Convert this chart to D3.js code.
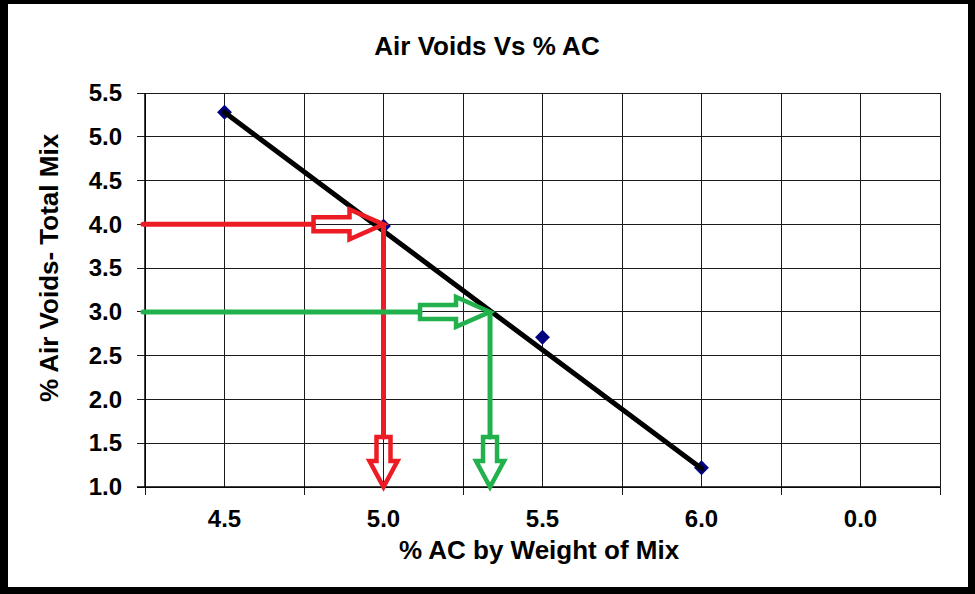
<!DOCTYPE html>
<html>
<head>
<meta charset="utf-8">
<script src="https://cdn.jsdelivr.net/npm/d3@7"></script>
<style>
  html, body { margin: 0; padding: 0; background: #fff; }
  svg { display: block; }
</style>
</head>
<body>
<div id="chart"></div>
<script>
// --- data ---
const categories = ["4.5", "5.0", "5.5", "6.0", "0.0"];
const acValues = [4.5, 5.0, 5.5, 6.0];
const airVoids = [5.28, 3.98, 2.71, 1.22];
const yTicks = [1.0, 1.5, 2.0, 2.5, 3.0, 3.5, 4.0, 4.5, 5.0, 5.5];
// trend line end points (% AC, % air voids)
const trendAC = [4.5, 6.0];
const trendVoids = [5.28, 1.21];
// read-off arrows: target air voids -> % AC
const arrowVoids = [4.0, 3.0];
const arrowAC = [5.0, 5.335];
const arrowColors = ["#ed1c24", "#22b14c"];

const W = 975, H = 594;
const margin = { left: 145, right: 35, top: 93, bottom: 107 };
const font = "'Liberation Sans', Arial, sans-serif";

const svg = d3.select("#chart").append("svg").attr("width", W).attr("height", H);

// frame
svg.append("rect").attr("width", W).attr("height", H).attr("fill", "#000");
svg.append("rect").attr("x", 8).attr("y", 4).attr("width", 960).attr("height", 583).attr("fill", "#fff");

const x = d3.scaleBand().domain(categories).range([margin.left, W - margin.right]).padding(0);
const bw = x.bandwidth();
// continuous position along the categories, for the read-off values
const xAC = d3.scaleLinear()
    .domain([acValues[0], acValues[acValues.length - 1]])
    .range([x(categories[0]) + bw / 2, x(categories[acValues.length - 1]) + bw / 2]);
const y = d3.scaleLinear().domain([1, 5.5]).range([H - margin.bottom, margin.top]);

const x0 = margin.left, x1 = W - margin.right, yb = y(1), yt = y(5.5);

// grid
const grid = svg.append("g").attr("stroke", "#1a1a1a").attr("stroke-width", 1).attr("shape-rendering", "crispEdges");
grid.selectAll("line.h").data(yTicks).join("line").attr("class", "h")
    .attr("x1", x0 - 8).attr("x2", x1).attr("y1", d => y(d)).attr("y2", d => y(d));
const bounds = categories.map(c => x(c)).concat([x(categories[categories.length - 1]) + bw]);
grid.selectAll("line.vb").data(bounds).join("line").attr("class", "vb")
    .attr("x1", d => d).attr("x2", d => d).attr("y1", yt).attr("y2", yb + 8);
grid.selectAll("line.vc").data(categories).join("line").attr("class", "vc")
    .attr("x1", d => x(d) + bw / 2).attr("x2", d => x(d) + bw / 2).attr("y1", yt).attr("y2", yb);

// y axis labels
const yAxis = svg.append("g").attr("transform", `translate(${x0},0)`)
    .call(d3.axisLeft(y).tickValues(yTicks).tickFormat(d3.format(".1f")).tickSize(0).tickPadding(23));
yAxis.select(".domain").remove();
yAxis.selectAll("text").attr("font-family", font).attr("font-size", 24).attr("font-weight", "bold").attr("fill", "#000");

// x axis labels
const xAxis = svg.append("g").attr("transform", `translate(0,${yb})`)
    .call(d3.axisBottom(x).tickSize(0).tickPadding(23));
xAxis.select(".domain").remove();
xAxis.selectAll("text").attr("font-family", font).attr("font-size", 24).attr("font-weight", "bold").attr("fill", "#000");

// axis lines
svg.append("line").attr("x1", x0).attr("x2", x0).attr("y1", yt).attr("y2", yb)
    .attr("stroke", "#000").attr("stroke-width", 1.5);
svg.append("line").attr("x1", x0 - 8).attr("x2", x1).attr("y1", yb).attr("y2", yb)
    .attr("stroke", "#000").attr("stroke-width", 1.5);

// markers
svg.append("g").selectAll("path").data(acValues).join("path")
    .attr("d", d3.symbol().type(d3.symbolSquare).size(110))
    .attr("transform", (d, i) => `translate(${xAC(d)},${y(airVoids[i])}) rotate(45)`)
    .attr("fill", "#000080");

// trend line
svg.append("path")
    .datum(trendAC.map((d, i) => [d, trendVoids[i]]))
    .attr("d", d3.line().x(d => xAC(d[0])).y(d => y(d[1])))
    .attr("fill", "none").attr("stroke", "#000").attr("stroke-width", 5).attr("stroke-linecap", "round");

// hollow block arrows, tip at (0,0)
const rightArrow = "M-70,-7 L-34,-7 L-34,-15 L0,0 L-34,15 L-34,7 L-70,7 Z";
const downArrow = "M-7,-50 L-7,-26 L-14,-26 L0,0 L14,-26 L7,-26 L7,-50 Z";

arrowVoids.forEach((v, i) => {
    const g = svg.append("g").attr("stroke", arrowColors[i]).attr("fill", "none")
        .attr("stroke-linecap", "round");
    const ax = xAC(arrowAC[i]), ay = y(v);
    g.append("line").attr("x1", x0 - 2).attr("x2", ax - 70).attr("y1", ay).attr("y2", ay).attr("stroke-width", 5);
    g.append("path").attr("d", rightArrow).attr("transform", `translate(${ax},${ay})`)
        .attr("stroke-width", 4.5).attr("stroke-linejoin", "miter");
    g.append("line").attr("x1", ax).attr("x2", ax).attr("y1", ay + 2).attr("y2", yb - 50).attr("stroke-width", 5);
    g.append("path").attr("d", downArrow).attr("transform", `translate(${ax},${yb})`)
        .attr("stroke-width", 4.5).attr("stroke-linejoin", "miter");
});

// titles
svg.append("text").attr("x", 487).attr("y", 55).attr("text-anchor", "middle")
    .attr("font-family", font).attr("font-size", 26).attr("font-weight", "bold")
    .text("Air Voids Vs % AC");
svg.append("text").attr("x", 539).attr("y", 559).attr("text-anchor", "middle")
    .attr("font-family", font).attr("font-size", 26).attr("font-weight", "bold")
    .text("% AC by Weight of Mix");
svg.append("text").attr("transform", "translate(58,268) rotate(-90)").attr("text-anchor", "middle")
    .attr("font-family", font).attr("font-size", 26).attr("font-weight", "bold")
    .text("% Air Voids- Total Mix");
</script>
</body>
</html>
